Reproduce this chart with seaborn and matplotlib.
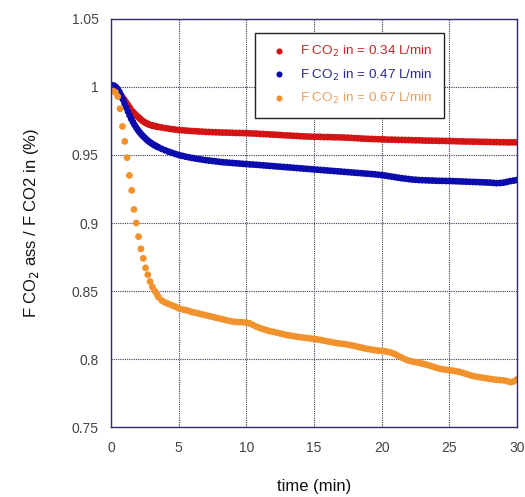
import numpy as np
import pandas as pd
import matplotlib
matplotlib.use("Agg")
import matplotlib.pyplot as plt
import seaborn as sns

# ---------------- data ----------------
series_names = ["F CO$_2$ in = 0.34 L/min",
                "F CO$_2$ in = 0.47 L/min",
                "F CO$_2$ in = 0.67 L/min"]

t_early = list(np.arange(0, 3.5, 0.125))          # 0 .. 3.375
t_tail = list(np.arange(3.5, 30.001, 0.25))       # 3.5 .. 30

red_early = [0.999, 0.999, 0.9985, 0.9978, 0.9966, 0.995, 0.9935, 0.992,
             0.9904, 0.9885, 0.9868, 0.985, 0.983, 0.9817, 0.9803, 0.979,
             0.978, 0.9768, 0.9757, 0.9748, 0.974, 0.9733, 0.9727, 0.9722,
             0.9718, 0.9715, 0.9712, 0.9709]
red_tail = [0.9706, 0.9702,
            0.9698, 0.9694, 0.969, 0.9687,
            0.9684, 0.9682, 0.968, 0.9678,
            0.9676, 0.9675, 0.9673, 0.9672,
            0.967, 0.9669, 0.9668, 0.9667,
            0.9666, 0.9665, 0.9665, 0.9664,
            0.9663, 0.9662, 0.9662, 0.9661,
            0.966, 0.9659, 0.9658, 0.9657,
            0.9655, 0.9654, 0.9653, 0.9651,
            0.965, 0.9649, 0.9647, 0.9645,
            0.9644, 0.9643, 0.9641, 0.964,
            0.9638, 0.9637, 0.9636, 0.9635,
            0.9634, 0.9634, 0.9633, 0.9632,
            0.9632, 0.9631, 0.963, 0.963,
            0.9629, 0.9628, 0.9627, 0.9626,
            0.9624, 0.9623, 0.9621, 0.962,
            0.9619, 0.9618, 0.9617, 0.9616,
            0.9615, 0.9614, 0.9613, 0.9613,
            0.9612, 0.9611, 0.9611, 0.961,
            0.961, 0.9609, 0.9608, 0.9608,
            0.9607, 0.9606, 0.9606, 0.9605,
            0.9605, 0.9604, 0.9604, 0.9603,
            0.9603, 0.9602, 0.9601, 0.960,
            0.960, 0.9599, 0.9599, 0.9598,
            0.9598, 0.9597, 0.9597, 0.9596,
            0.9596, 0.9595, 0.9595, 0.9594,
            0.9594, 0.9593, 0.9593, 0.9593,
            0.9593]

blue_early = [1.001, 1.0012, 1.0008, 0.9998, 0.9983, 0.9963, 0.9938, 0.991,
              0.988, 0.985, 0.982, 0.9792, 0.9765, 0.9742, 0.972, 0.97,
              0.9682, 0.9666, 0.9651, 0.9638, 0.9626, 0.9614, 0.9603, 0.9594,
              0.9585, 0.9577, 0.957, 0.9563]
blue_tail = [0.9557, 0.9545,
             0.9535, 0.9525, 0.9516, 0.9508,
             0.950, 0.9494, 0.9488, 0.9483,
             0.9478, 0.9474, 0.947, 0.9466,
             0.9462, 0.9459, 0.9456, 0.9453,
             0.945, 0.9447, 0.9445, 0.9443,
             0.9441, 0.9439, 0.9437, 0.9435,
             0.9433, 0.9431, 0.943, 0.9428,
             0.9426, 0.9424, 0.9422, 0.942,
             0.9418, 0.9416, 0.9414, 0.9412,
             0.941, 0.9408, 0.9406, 0.9404,
             0.9402, 0.940, 0.9398, 0.9396,
             0.9394, 0.9392, 0.939, 0.9388,
             0.9386, 0.9384, 0.9382, 0.938,
             0.9378, 0.9376, 0.9374, 0.9372,
             0.937, 0.9368, 0.9366, 0.9364,
             0.9362, 0.936, 0.9358, 0.9355,
             0.9352, 0.9349, 0.9345, 0.9341,
             0.9337, 0.9333, 0.9329, 0.9326,
             0.9323, 0.932, 0.9318, 0.9316,
             0.9315, 0.9314, 0.9313, 0.9312,
             0.9311, 0.931, 0.931, 0.9309,
             0.9309, 0.9308, 0.9307, 0.9306,
             0.9305, 0.9304, 0.9303, 0.9302,
             0.9301, 0.930, 0.9299, 0.9298,
             0.9297, 0.9295, 0.9293, 0.9294,
             0.9297, 0.9302, 0.9308, 0.9312,
             0.9316]

orange_t_early = [0.0, 0.17, 0.33, 0.5, 0.67, 0.85, 1.02, 1.19, 1.36, 1.53,
                  1.70, 1.87, 2.04, 2.21, 2.38, 2.55, 2.72, 2.89, 3.06, 3.23,
                  3.40]
orange_early = [0.997, 0.997, 0.996, 0.993, 0.984, 0.971, 0.960, 0.948,
                0.935, 0.924, 0.910, 0.900, 0.890, 0.881, 0.874, 0.867,
                0.862, 0.857, 0.853, 0.850, 0.8475]
orange_tail = [0.8455, 0.843,
               0.8415, 0.8405, 0.8395, 0.8385,
               0.8372, 0.8365, 0.836, 0.8353,
               0.8345, 0.834, 0.8334, 0.8328,
               0.8322, 0.8316, 0.831, 0.8304,
               0.8298, 0.8292, 0.8286, 0.828,
               0.8275, 0.8273, 0.8271, 0.827,
               0.8268, 0.8262, 0.825, 0.8238,
               0.8228, 0.822, 0.8212, 0.8205,
               0.820, 0.8194, 0.8188, 0.8182,
               0.8176, 0.8172, 0.8168, 0.8164,
               0.816, 0.8157, 0.8154, 0.8151,
               0.8148, 0.8144, 0.814, 0.8135,
               0.813, 0.8125, 0.812, 0.8116,
               0.8113, 0.811, 0.8106, 0.8101,
               0.8096, 0.809, 0.8084, 0.8078,
               0.8073, 0.8069, 0.8065, 0.8062,
               0.806, 0.8057, 0.8052, 0.8045,
               0.8035, 0.8022, 0.801, 0.7998,
               0.7988, 0.7982, 0.7977, 0.7972,
               0.7966, 0.796, 0.7953, 0.7945,
               0.7937, 0.793, 0.7925, 0.7921,
               0.7918, 0.7915, 0.791, 0.7905,
               0.7898, 0.789, 0.7882, 0.7875,
               0.787, 0.7866, 0.7862, 0.7858,
               0.7854, 0.785, 0.7847, 0.7845,
               0.7843, 0.7838, 0.783, 0.7835,
               0.785]

x_ticks = [0, 5, 10, 15, 20, 25, 30]
y_ticks = [0.75, 0.8, 0.85, 0.9, 0.95, 1.0, 1.05]
y_tick_labels = ["0.75", "0.8", "0.85", "0.9", "0.95", "1", "1.05"]

colors = ["#d41414", "#0c0cae", "#f2922c"]
text_colors = ["#c62828", "#2a2a90", "#e8a060"]

# ---------------- build table ----------------
frames = [
    pd.DataFrame({"t": t_early + t_tail, "v": red_early + red_tail, "s": series_names[0]}),
    pd.DataFrame({"t": t_early + t_tail, "v": blue_early + blue_tail, "s": series_names[1]}),
    pd.DataFrame({"t": orange_t_early + t_tail, "v": orange_early + orange_tail, "s": series_names[2]}),
]
df = pd.concat(frames, ignore_index=True)

sns.set_theme(style="white")
plt.rcParams["font.family"] = ["Liberation Sans", "DejaVu Sans"]

fig = plt.figure(figsize=(5.25, 4.97), dpi=100)
ax = fig.add_axes([0.2114, 0.1408, 0.7734, 0.821])

sns.scatterplot(data=df, x="t", y="v", hue="s", palette=colors,
                s=24, linewidth=0, edgecolor="none", ax=ax, legend=True)

ax.set_xlim(0, 30)
ax.set_ylim(0.75, 1.05)
ax.set_xticks(x_ticks)
ax.set_xticklabels([str(x) for x in x_ticks])
ax.set_yticks(y_ticks)
ax.set_yticklabels(y_tick_labels)
ax.tick_params(axis="x", labelsize=10, labelcolor="#444444", length=0, pad=10)
ax.tick_params(axis="y", labelsize=10, labelcolor="#444444", length=0, pad=9)

ax.grid(True, linestyle=(0, (1, 1)), color="#3a3a5a", linewidth=0.8)
ax.set_axisbelow(True)
for sp in ax.spines.values():
    sp.set_color("#2e2e6e")
    sp.set_linewidth(1.0)

ax.set_xlabel("time (min)", fontsize=12, color="#111111", labelpad=17)
ax.set_ylabel("F CO$_2$ ass / F CO2 in (%)", fontsize=12, color="#111111", labelpad=22)

handles, labels = ax.get_legend_handles_labels()
leg = ax.legend(handles, labels, loc="upper left", bbox_to_anchor=(0.355, 0.966),
                fontsize=9.7, frameon=True, fancybox=False, edgecolor="#222222",
                framealpha=1, borderpad=0.85, handletextpad=0.7, labelspacing=0.62,
                markerscale=0.9, borderaxespad=0, handlelength=1.8)
leg.get_frame().set_linewidth(1.0)
for txt, c in zip(leg.get_texts(), text_colors):
    txt.set_color(c)

fig.savefig("out.png", dpi=100)
